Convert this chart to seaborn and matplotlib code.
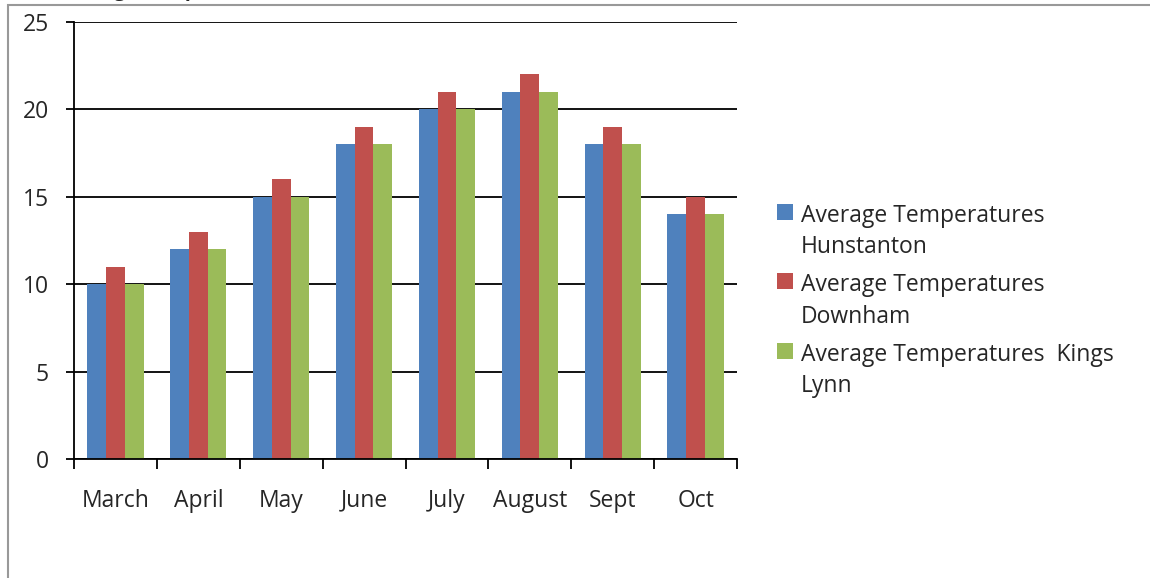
import numpy as np
import pandas as pd
import matplotlib
matplotlib.use("Agg")
import matplotlib.pyplot as plt
from matplotlib.patches import Rectangle
import seaborn as sns

# data
months = ["March", "April", "May", "June", "July", "August", "Sept", "Oct"]
hunstanton = [10, 12, 15, 18, 20, 21, 18, 14]
downham = [11, 13, 16, 19, 21, 22, 19, 15]
kings_lynn = [10, 12, 15, 18, 20, 21, 18, 14]
series_names = ["Average Temperatures Hunstanton",
                "Average Temperatures Downham",
                "Average Temperatures  Kings Lynn"]
legend_labels = ["Average Temperatures\nHunstanton",
                 "Average Temperatures\nDownham",
                 "Average Temperatures  Kings\nLynn"]
colors = ["#4F81BD", "#C0504D", "#9BBB59"]
y_ticks = [0, 5, 10, 15, 20, 25]

df = pd.DataFrame({
    "month": months * 3,
    "temp": hunstanton + downham + kings_lynn,
    "series": np.repeat(series_names, len(months)),
})

sns.set_style("white")
plt.rcParams["font.family"] = ["Open Sans", "DejaVu Sans"]

fig = plt.figure(figsize=(11.5, 5.78), dpi=100)
ax = fig.add_axes([74 / 1150, 1 - 459 / 578, (737 - 74) / 1150, (459 - 22) / 578])

sns.barplot(data=df, x="month", y="temp", hue="series", palette=colors,
            width=0.68, saturation=1, linewidth=0, edgecolor="none",
            ax=ax, legend=True)

ax.set_ylim(0, 25)
ax.set_xlim(-0.5, len(months) - 0.5)
ax.set_yticks(y_ticks)
ax.set_xlabel("")
ax.set_ylabel("")
ax.set_axisbelow(True)
ax.yaxis.grid(True, color="black", linewidth=1.3)
ax.xaxis.grid(False)

for side in ["top", "right"]:
    ax.spines[side].set_visible(False)
for side in ["left", "bottom"]:
    ax.spines[side].set_color("black")
    ax.spines[side].set_linewidth(1.3)

ax.tick_params(axis="y", which="major", left=True, length=6, width=1.3,
               color="black", labelsize=16.5, pad=12)
ax.tick_params(axis="x", which="major", bottom=False, labelsize=16.5, pad=18)
ax.set_xticks(np.arange(-0.5, len(months)), minor=True)
ax.tick_params(axis="x", which="minor", bottom=True, length=7, width=1.3,
               color="black")

handles, _ = ax.get_legend_handles_labels()
leg = ax.legend(handles, legend_labels, loc="center left",
                bbox_to_anchor=(777 / 1150, 1 - 301 / 578),
                bbox_transform=fig.transFigure, frameon=False, fontsize=16.5,
                handlelength=0.7, handleheight=0.7, handletextpad=0.35,
                labelspacing=0.62, borderaxespad=0, borderpad=0)
for t in leg.get_texts():
    t.set_linespacing(1.4)
# square sits next to the first line of each entry, like Excel
for column in leg._legend_handle_box.get_children():
    for item in column.get_children():
        item.align = "top"

# chart frame and clipped title, as in the source screenshot
fig.patches.append(Rectangle((8 / 1150, -0.1), 1.2, 1 - 5 / 578 + 0.1,
                             transform=fig.transFigure, fill=False,
                             edgecolor="#999999", linewidth=1.5))
fig.text(56 / 1150, 1 + 4 / 578, "Average Temperatures", fontsize=14.5,
         fontweight="bold", va="baseline", ha="left")

fig.savefig("out.png", dpi=100)
